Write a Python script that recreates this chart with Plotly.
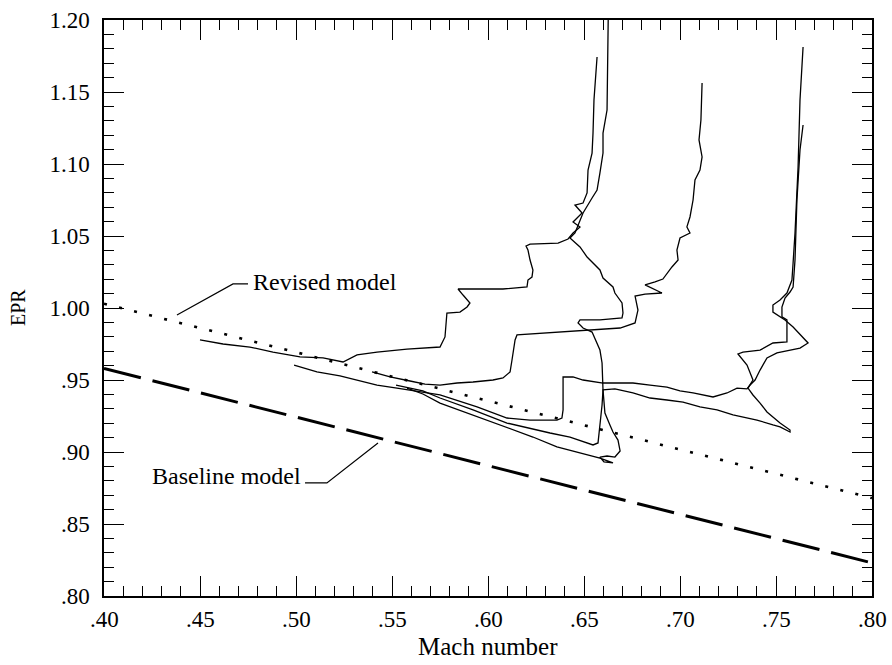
import plotly.graph_objects as go

# ---- data (Mach number, EPR) ----
model_mach = [0.40, 0.80]
revised_epr = [1.003, 0.868]
baseline_epr = [0.958, 0.823]

run1_mach = [0.4500, 0.4620, 0.4760, 0.4880, 0.5021, 0.5141, 0.5245, 0.5297, 0.5318, 0.5422,
             0.5578, 0.5750, 0.5776, 0.5786, 0.5854, 0.5891, 0.5906, 0.5870, 0.5844, 0.6078,
             0.6203, 0.6208, 0.6229, 0.6234, 0.6219, 0.6208, 0.6198, 0.6219, 0.6365, 0.6417,
             0.6443, 0.6479, 0.6443, 0.6490, 0.6453, 0.6495, 0.6516, 0.6521, 0.6542, 0.6547,
             0.6552, 0.6568]
run1_epr = [0.9778, 0.9750, 0.9729, 0.9694, 0.9660, 0.9653, 0.9625, 0.9660, 0.9674, 0.9694,
            0.9715, 0.9729, 0.9799, 0.9965, 0.9972, 1.0007, 1.0035, 1.0090, 1.0132, 1.0132,
            1.0146, 1.0194, 1.0215, 1.0264, 1.0333, 1.0403, 1.0431, 1.0444, 1.0451, 1.0479,
            1.0521, 1.0563, 1.0597, 1.0660, 1.0715, 1.0729, 1.0799, 1.0958, 1.1076, 1.1215,
            1.1444, 1.1743]

run2_mach = [0.5578, 0.5661, 0.5750, 0.5922, 0.6099, 0.6234, 0.6359, 0.6479, 0.6583, 0.6651,
             0.6604, 0.6583, 0.6620, 0.6661, 0.6688, 0.6677, 0.6651, 0.6635, 0.6609, 0.6599,
             0.6594, 0.6583, 0.6568, 0.6542, 0.6495, 0.6469, 0.6479, 0.6583, 0.6698, 0.6703,
             0.6698, 0.6661, 0.6651, 0.6599, 0.6583, 0.6516, 0.6479, 0.6427, 0.6453, 0.6479,
             0.6495, 0.6542, 0.6568, 0.6583, 0.6599, 0.6599, 0.6620, 0.6627]
run2_epr = [0.9444, 0.9403, 0.9340, 0.9257, 0.9174, 0.9104, 0.9035, 0.8993, 0.8958, 0.8924,
            0.8931, 0.8965, 0.8972, 0.8965, 0.9007, 0.9083, 0.9139, 0.9188, 0.9271, 0.9431,
            0.9618, 0.9708, 0.9757, 0.9833, 0.9861, 0.9896, 0.9917, 0.9917, 0.9931, 0.9965,
            1.0035, 1.0104, 1.0146, 1.0208, 1.0264, 1.0354, 1.0424, 1.0486, 1.0521, 1.0611,
            1.0660, 1.0764, 1.0819, 1.0938, 1.1076, 1.1215, 1.1375, 1.2100]

run3_mach = [0.4990, 0.5109, 0.5229, 0.5318, 0.5422, 0.5526, 0.5661, 0.5750, 0.5943, 0.6099,
             0.6219, 0.6359, 0.6385, 0.6391, 0.6391, 0.6443, 0.6495, 0.6599, 0.6672, 0.6755,
             0.6844, 0.6932, 0.7000, 0.7068, 0.7172, 0.7245, 0.7297, 0.7349, 0.7365, 0.7391,
             0.7417, 0.7453, 0.7505, 0.7573, 0.7625, 0.7667, 0.7589, 0.7547, 0.7484, 0.7484,
             0.7521, 0.7557, 0.7583, 0.7589, 0.7599, 0.7615, 0.7625, 0.7641]
run3_epr = [0.9604, 0.9556, 0.9528, 0.9500, 0.9465, 0.9444, 0.9417, 0.9396, 0.9313, 0.9236,
            0.9222, 0.9222, 0.9236, 0.9292, 0.9521, 0.9521, 0.9500, 0.9479, 0.9479, 0.9479,
            0.9465, 0.9451, 0.9424, 0.9410, 0.9382, 0.9410, 0.9444, 0.9438, 0.9465, 0.9500,
            0.9569, 0.9653, 0.9688, 0.9708, 0.9722, 0.9757, 0.9868, 0.9917, 0.9972, 1.0021,
            1.0056, 1.0104, 1.0194, 1.0313, 1.0521, 1.0979, 1.1444, 1.1813]

run4_mach = [0.5521, 0.5661, 0.5750, 0.5922, 0.6099, 0.6203, 0.6323, 0.6427, 0.6516, 0.6547,
             0.6573, 0.6583, 0.6594, 0.6599, 0.6661, 0.6755, 0.6844, 0.6932, 0.7016, 0.7104,
             0.7193, 0.7276, 0.7328, 0.7401, 0.7484, 0.7521, 0.7573, 0.7573, 0.7521, 0.7484,
             0.7453, 0.7417, 0.7380, 0.7354, 0.7380, 0.7349, 0.7302, 0.7328, 0.7417, 0.7484,
             0.7557, 0.7557, 0.7531, 0.7531, 0.7547, 0.7573, 0.7589, 0.7599, 0.7609, 0.7625,
             0.7641]
run4_epr = [0.9465, 0.9424, 0.9375, 0.9292, 0.9201, 0.9167, 0.9132, 0.9104, 0.9063, 0.9049,
            0.9063, 0.9174, 0.9326, 0.9431, 0.9438, 0.9410, 0.9375, 0.9361, 0.9347, 0.9313,
            0.9292, 0.9257, 0.9243, 0.9222, 0.9188, 0.9174, 0.9139, 0.9153, 0.9201, 0.9243,
            0.9278, 0.9340, 0.9396, 0.9444, 0.9500, 0.9604, 0.9681, 0.9694, 0.9708, 0.9757,
            0.9764, 0.9917, 0.9938, 1.0007, 1.0069, 1.0111, 1.0146, 1.0333, 1.0750, 1.1097,
            1.1271]

run5_mach = [0.5396, 0.5490, 0.5594, 0.5672, 0.5750, 0.5839, 0.5922, 0.6026, 0.6078, 0.6115,
             0.6125, 0.6141, 0.6151, 0.6219, 0.6323, 0.6453, 0.6583, 0.6688, 0.6766, 0.6781,
             0.6766, 0.6818, 0.6906, 0.6818, 0.6870, 0.6911, 0.6958, 0.6990, 0.6984, 0.7000,
             0.7052, 0.7036, 0.7052, 0.7068, 0.7078, 0.7104, 0.7115, 0.7099, 0.7109, 0.7115]
run5_epr = [0.9556, 0.9521, 0.9493, 0.9472, 0.9465, 0.9479, 0.9486, 0.9500, 0.9514, 0.9556,
            0.9639, 0.9778, 0.9813, 0.9819, 0.9826, 0.9840, 0.9847, 0.9861, 0.9896, 0.9986,
            1.0083, 1.0097, 1.0104, 1.0160, 1.0181, 1.0201, 1.0285, 1.0333, 1.0403, 1.0486,
            1.0521, 1.0563, 1.0632, 1.0750, 1.0889, 1.0958, 1.1049, 1.1167, 1.1306, 1.1563]

# annotation leader lines
revised_leader_mach = [0.4750, 0.4672, 0.4380]
revised_leader_epr = [1.0167, 1.0167, 0.9951]
baseline_leader_mach = [0.5047, 0.5161, 0.5427]
baseline_leader_epr = [0.8785, 0.8785, 0.9063]

x_ticks = [0.40, 0.45, 0.50, 0.55, 0.60, 0.65, 0.70, 0.75, 0.80]
x_ticktext = [".40", ".45", ".50", ".55", ".60", ".65", ".70", ".75", ".80"]
y_ticks = [0.80, 0.85, 0.90, 0.95, 1.00, 1.05, 1.10, 1.15, 1.20]
y_ticktext = [".80", ".85", ".90", ".95", "1.00", "1.05", "1.10", "1.15", "1.20"]

FONT = "Liberation Serif, Times New Roman, serif"
fig = go.Figure()

fig.add_trace(go.Scatter(x=model_mach, y=revised_epr, mode="lines",
                         line=dict(color="black", width=2.6, dash="3px,12.5px")))
fig.add_trace(go.Scatter(x=model_mach, y=baseline_epr, mode="lines",
                         line=dict(color="black", width=3, dash="38px,12px")))

for mx, ey in [(run1_mach, run1_epr), (run2_mach, run2_epr), (run3_mach, run3_epr),
               (run4_mach, run4_epr), (run5_mach, run5_epr)]:
    fig.add_trace(go.Scatter(x=mx, y=ey, mode="lines",
                             line=dict(color="black", width=1.3)))

for mx, ey in [(revised_leader_mach, revised_leader_epr),
               (baseline_leader_mach, baseline_leader_epr)]:
    fig.add_trace(go.Scatter(x=mx, y=ey, mode="lines",
                             line=dict(color="black", width=1.2)))

fig.add_annotation(x=0.4766, y=1.0181, text="Revised model", showarrow=False,
                   xanchor="left", yanchor="middle", font=dict(family=FONT, size=24, color="black"))
fig.add_annotation(x=0.5036, y=0.8833, text="Baseline model", showarrow=False,
                   xanchor="right", yanchor="middle", font=dict(family=FONT, size=24, color="black"))

# x tick labels (placed just below the axis)
for xv, xt in zip(x_ticks, x_ticktext):
    fig.add_annotation(x=xv, y=0, xref="x", yref="paper", text=xt, showarrow=False,
                       xanchor="center", yanchor="middle", yshift=-23,
                       font=dict(family=FONT, size=23, color="black"))

fig.add_annotation(x=0.5, y=0, xref="paper", yref="paper", text="Mach number",
                   showarrow=False, xanchor="center", yanchor="middle", yshift=-50,
                   font=dict(family=FONT, size=25, color="black"))
fig.add_annotation(x=0, y=0.5, xref="paper", yref="paper", text="EPR", textangle=-90,
                   showarrow=False, xanchor="center", yanchor="middle", xshift=-86,
                   font=dict(family=FONT, size=20, color="black"))

axis_common = dict(
    showgrid=False, zeroline=False, showline=True, linecolor="black", linewidth=1.5,
    mirror="ticks", ticks="inside", ticklen=20, tickwidth=1.3, tickcolor="black",
    tickfont=dict(family=FONT, size=23, color="black"), tickmode="array",
    automargin=False,
)

fig.update_xaxes(range=[0.40, 0.80], tickvals=x_ticks, showticklabels=False,
                 minor=dict(tick0=0.40, dtick=0.01, ticks="inside", ticklen=10,
                            tickwidth=1.3, tickcolor="black"),
                 **axis_common)
fig.update_yaxes(range=[0.80, 1.20], tickvals=y_ticks, ticktext=y_ticktext,
                 minor=dict(tick0=0.80, dtick=0.01, ticks="inside", ticklen=10,
                            tickwidth=1.3, tickcolor="black"),
                 ticklabelstandoff=8, **axis_common)

fig.update_layout(width=892, height=665, margin=dict(l=104, r=20, t=20, b=69),
                  plot_bgcolor="white", paper_bgcolor="white", showlegend=False,
                  font=dict(family=FONT, color="black"))

fig.write_html("out.html", config={"displayModeBar": False},
               post_script="document.body.style.margin='0';document.body.style.overflow='hidden';")
